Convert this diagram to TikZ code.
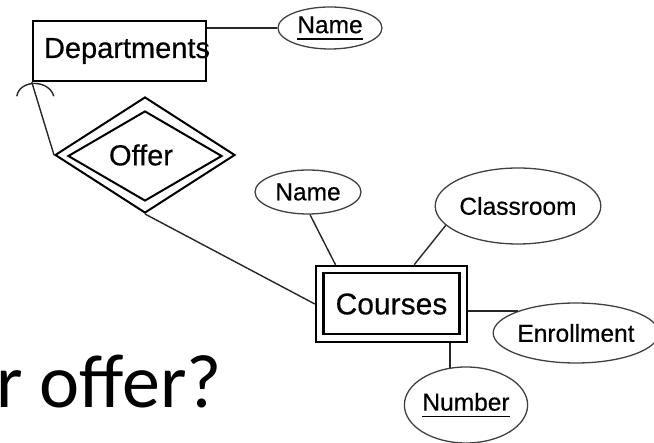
\documentclass[tikz,border=0pt]{standalone}
\usepackage{fontspec}
\setmainfont[FakeBold=0.5]{Liberation Sans}
\newfontfamily\calibri{Carlito}
\usetikzlibrary{shapes.geometric}
\newcommand\keyul[1]{\setbox0\hbox{#1}\rlap{\rule[-6.5pt]{\wd0}{1.2pt}}\box0}
\begin{document}
\begin{tikzpicture}[x=1pt,y=-1pt,
  ent/.style={draw, line width=2.4pt, rectangle, inner sep=0pt},
  attr/.style={draw=black!75, line width=1.3pt, ellipse, inner sep=0pt, font=\fontsize{24.5}{28}\selectfont},
  conn/.style={line width=1.4pt, draw=black!85},
  rel/.style={draw, line width=2pt, diamond, inner sep=0pt}]
\useasboundingbox (0,0) rectangle (654,443);
% entities
\node[ent, minimum width=173pt, minimum height=60pt, font=\fontsize{29}{32}\selectfont] (dept) at (119.5,51) {\makebox[0pt]{\hspace*{15pt}\raisebox{2pt}{Departments}}};
\node[ent, minimum width=151pt, minimum height=76pt, font=\fontsize{30}{33}\selectfont] (courses) at (391.5,304) {Courses};
\node[ent, minimum width=136pt, minimum height=61pt] (cin) at (391.5,303.5) {};
% relationship
\node[rel, minimum width=180pt, minimum height=116pt, font=\fontsize{29}{32}\selectfont] (offer) at (145,155) {\makebox[0pt]{\hspace*{-8pt}\raisebox{-2pt}{Offer}}};
\node[rel, minimum width=154pt, minimum height=90pt] (offin) at (145,156) {};
% attributes
\node[attr, minimum width=104pt, minimum height=42pt] (dname) at (330,28) {\keyul{Name}};
\node[attr, minimum width=106pt, minimum height=44pt] (cname) at (308,192) {Name};
\node[attr, minimum width=150pt, minimum height=76pt] (room) at (518,206) {Classroom};
\node[attr, minimum width=154pt, minimum height=60pt] (enr) at (576,333) {Enrollment};
\node[attr, minimum width=122pt, minimum height=76pt] (num) at (466,405) {\keyul{Number}};
% big slide text
\node[anchor=base west, inner sep=0pt, font=\calibri\fontsize{76}{80}\selectfont] (q) at (-4,408) {r offer?};
% connectors
\draw[conn] (dname.west) -- (dname.west -| dept.east);
\draw[conn] (dept.south west) -- (offer.west);
\draw[conn] ([shift={(-15,14)}]dept.south west) .. controls ([shift={(-12,-3)}]dept.south west) and ([shift={(17,-3)}]dept.south west) .. ([shift={(22,14)}]dept.south west);
\draw[conn] (offer.south) -- (courses.west);
\draw[conn] (cname.-85) -- (courses.145);
\draw[conn] (room.195) -- (courses.60);
\draw[conn] (enr.159) -- (enr.159 -| courses.east);
\draw[conn] (num.113) -- (num.113 |- courses.south);
\end{tikzpicture}
\end{document}
